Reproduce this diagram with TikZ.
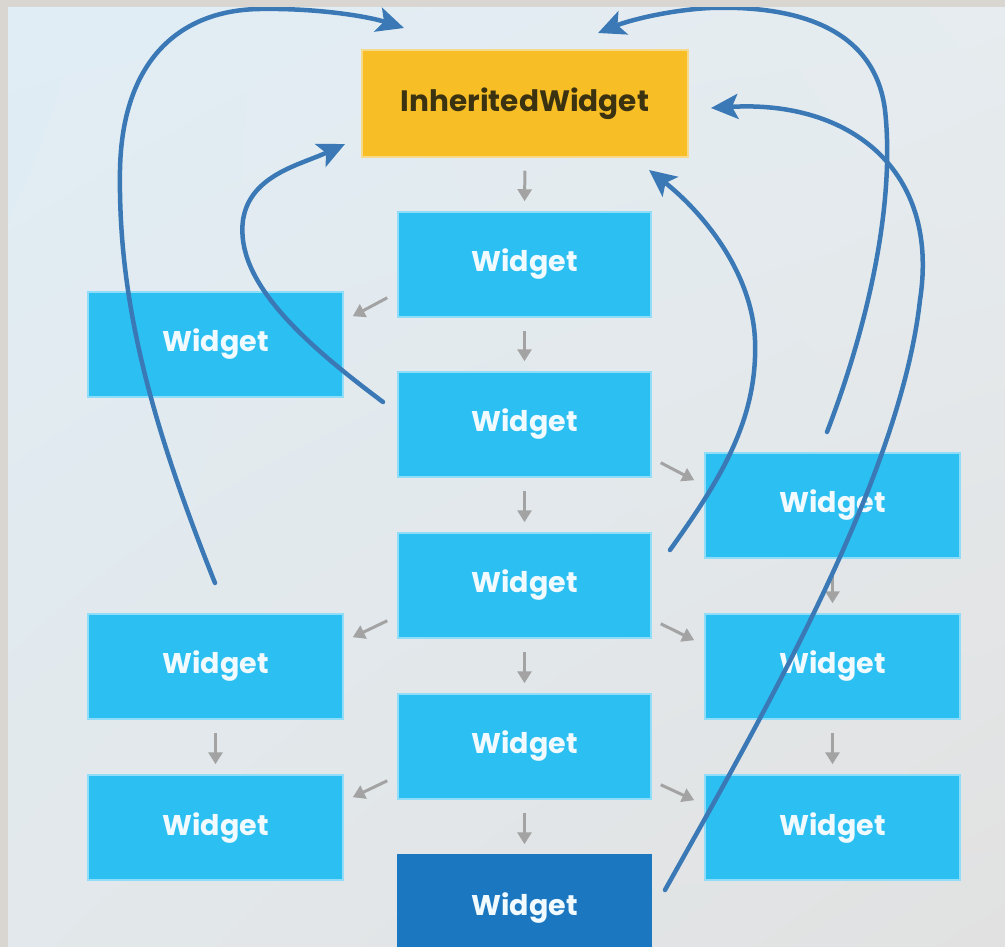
\documentclass[tikz,border=0pt]{standalone}
\usepackage{fontspec}
\setmainfont{Poppins}
\usetikzlibrary{arrows.meta,calc,shadings}
\definecolor{bgUL}{HTML}{E0EDF5}
\definecolor{bgUR}{HTML}{E6ECEF}
\definecolor{bgLL}{HTML}{E2E8EB}
\definecolor{bgLR}{HTML}{E1E1E1}
\definecolor{rim}{HTML}{D9D6D1}
\definecolor{boxblue}{HTML}{2CBFF2}
\definecolor{boxhalo}{HTML}{8FDDF8}
\definecolor{darkblue}{HTML}{1B78C0}
\definecolor{boxyellow}{HTML}{F7BE25}
\definecolor{yellowhalo}{HTML}{F6D98A}
\definecolor{iwtext}{HTML}{3A3210}
\definecolor{wtext}{HTML}{F0FAFF}
\definecolor{curveblue}{HTML}{3A79B5}
\definecolor{greyarrow}{HTML}{A3A3A3}
\tikzset{
  wbox/.style={rectangle, fill=boxblue, draw=boxhalo, line width=1.5pt, inner sep=0pt,
    minimum width=253pt, minimum height=105pt, text=wtext,
    font=\fontsize{28.5}{32}\selectfont\bfseries},
  sidebox/.style={wbox, minimum width=255pt},
  darkbox/.style={wbox, fill=darkblue, draw=darkblue},
  iwbox/.style={rectangle, fill=boxyellow, draw=yellowhalo, line width=1.5pt, inner sep=0pt,
    minimum width=326pt, minimum height=107pt, text=iwtext,
    font=\fontsize{29.5}{32}\selectfont\bfseries},
  garrow/.style={draw=greyarrow, line width=3pt, -{Triangle[length=12pt,width=14pt]}},
  vgarrow/.style={garrow, shorten <=13pt, shorten >=10pt},
  barrow/.style={draw=curveblue, line width=4.5pt, line cap=round,
    -{Stealth[length=27pt,width=25pt,inset=6pt]}}
}
\begin{document}
\begin{tikzpicture}[x=1pt,y=-1pt]
\useasboundingbox (0,0) rectangle (1005,947);
\clip (0,0) rectangle (1005,947);
\shade[upper left=bgUL, upper right=bgUR, lower left=bgLL, lower right=bgLR]
  (0,0) rectangle (1005,947);

% boxes
\node[iwbox] (IW) at (525,103.5) {InheritedWidget};
\node[wbox] (W1) at (524.5,264.5) {Widget};
\node[wbox] (W2) at (524.5,424.5) {Widget};
\node[wbox] (W3) at (524.5,585.5) {Widget};
\node[wbox] (W4) at (524.5,746.5) {Widget};
\node[darkbox] (W5) at (524.5,907.5) {Widget};
\node[sidebox] (L1) at (215.5,344.5) {Widget};
\node[sidebox] (L2) at (215.5,666.5) {Widget};
\node[sidebox] (L3) at (215.5,827.5) {Widget};
\node[sidebox] (R1) at (832.5,505.5) {Widget};
\node[sidebox] (R2) at (832.5,666.5) {Widget};
\node[sidebox] (R3) at (832.5,827.5) {Widget};

% grey arrows: vertical
\draw[vgarrow] (IW.south) -- (W1.north);
\draw[vgarrow] (W1.south) -- (W2.north);
\draw[vgarrow] (W2.south) -- (W3.north);
\draw[vgarrow] (W3.south) -- (W4.north);
\draw[vgarrow] (W4.south) -- (W5.north);
\draw[vgarrow] (L2.south) -- (L3.north);
\draw[vgarrow] (R1.south) -- (R2.north);
\draw[vgarrow] (R2.south) -- (R3.north);
% grey arrows: diagonal
\draw[garrow] ($(W1.south west)+(-10,-20)$) -- ($(L1.north east)+(9,25)$);
\draw[garrow] ($(W3.south west)+(-10,-18)$) -- ($(L2.north east)+(9,24)$);
\draw[garrow] ($(W4.south west)+(-10,-19)$) -- ($(L3.north east)+(9,23)$);
\draw[garrow] ($(W2.south east)+(9,-15)$) -- ($(R1.north west)+(-10,28)$);
\draw[garrow] ($(W3.south east)+(9,-15)$) -- ($(R2.north west)+(-10,27)$);
\draw[garrow] ($(W4.south east)+(9,-15)$) -- ($(R3.north west)+(-10,26)$);

% blue curves
\coordinate (aS) at (215,583);  \coordinate (aT) at (404,28);
\coordinate (bS) at (383,402);  \coordinate (bT) at (345,144);
\coordinate (cS) at (670,550);  \coordinate (cT) at (649,170);
\coordinate (dS) at (827,432);  \coordinate (dT) at (598,33);
\coordinate (eS) at (665,890);  \coordinate (eT) at (711,108);
\draw[barrow] (aS) .. controls (150,420) and (118,300) .. (120,170)
  .. controls (122,60) and (180,10) .. (260,9)
  .. controls (320,8) and (370,17) .. (aT);
\draw[barrow] (bS) .. controls (300,340) and (235,280) .. (243,220)
  .. controls (250,175) and (300,165) .. (bT);
\draw[barrow] (cS) .. controls (720,480) and (758,420) .. (755,340)
  .. controls (752,270) and (700,210) .. (cT);
\draw[barrow] (dS) .. controls (870,320) and (895,200) .. (885,110)
  .. controls (875,30) and (800,5) .. (710,8)
  .. controls (670,10) and (630,20) .. (dT);
\draw[barrow] (eS) .. controls (760,720) and (900,480) .. (920,300)
  .. controls (940,170) and (850,100) .. (eT);

% screen rim
\fill[rim] (0,0) rectangle (1005,7);
\fill[rim] (0,0) rectangle (8,947);
\end{tikzpicture}
\end{document}
